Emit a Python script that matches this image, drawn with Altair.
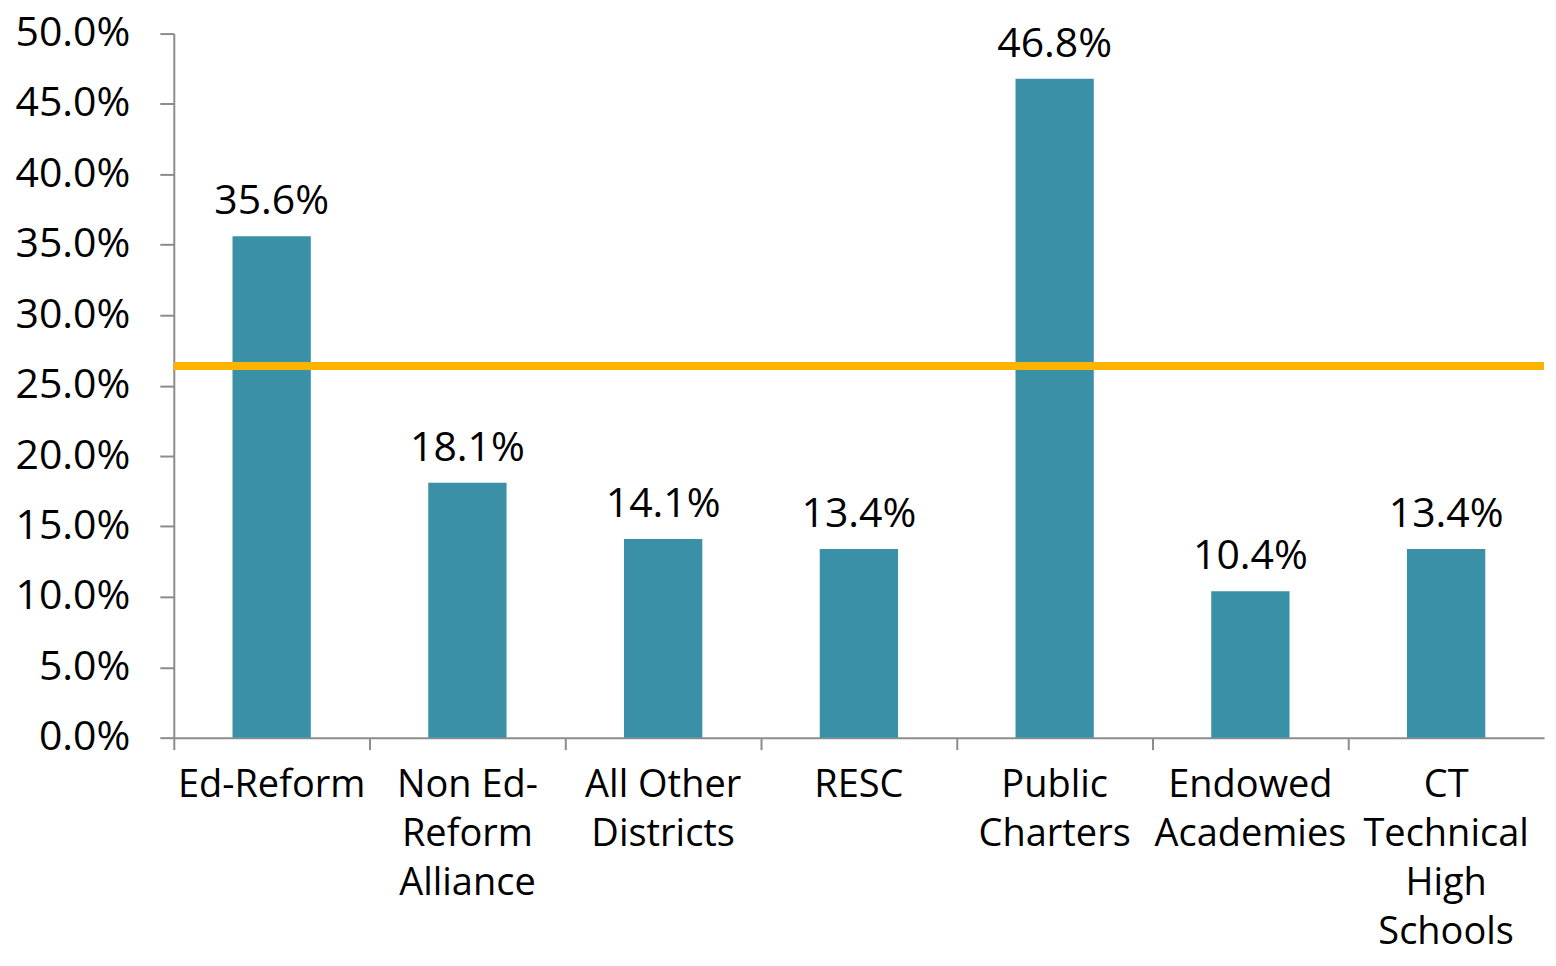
import altair as alt
import pandas as pd

categories = ["Ed-Reform", "Non Ed-|Reform|Alliance", "All Other|Districts", "RESC",
              "Public|Charters", "Endowed|Academies", "CT|Technical|High|Schools"]
values = [0.356, 0.181, 0.141, 0.134, 0.468, 0.104, 0.134]
state_avg = [0.264]

df = pd.DataFrame({"cat": categories, "val": values})
ref = pd.DataFrame({"avg": state_avg})

FONT = "Open Sans"
BAR = "#3A91A7"

x = alt.X("cat:N", sort=categories, title=None,
          scale=alt.Scale(paddingInner=0, paddingOuter=0),
          axis=alt.Axis(labelAngle=0, labelExpr="split(datum.label, '|')",
                        labelFont=FONT, labelFontSize=38, labelColor="#000000",
                        labelLineHeight=49, labelPadding=17, labelBaseline="top",
                        labelLimit=0, labelOverlap=False,
                        bandPosition=0, tickSize=12, tickColor="#8c8c8c",
                        domainColor="#8c8c8c", domainWidth=2, tickWidth=2,
                        grid=False))
y = alt.Y("val:Q", title=None,
          scale=alt.Scale(domain=[0, 0.5]),
          axis=alt.Axis(format=".1%", values=[i * 0.05 for i in range(11)],
                        labelFont=FONT, labelFontSize=41, labelColor="#000000",
                        labelPadding=30, tickSize=14, tickColor="#8c8c8c",
                        domainColor="#8c8c8c", domainWidth=2, tickWidth=2,
                        grid=False, minExtent=164, maxExtent=164))

bars = alt.Chart(df).mark_bar(color=BAR, width=alt.RelativeBandSize(0.4)).encode(x=x, y=y)
labels = alt.Chart(df).mark_text(font=FONT, fontSize=41, color="#000000",
                                 baseline="alphabetic", dy=-22).encode(
    x=alt.X("cat:N", sort=categories),
    y="val:Q",
    text=alt.Text("val:Q", format=".1%"))
rule = alt.Chart(ref).mark_rule(color="#FDB300", strokeWidth=8).encode(y="avg:Q")

chart = alt.layer(bars, rule, labels).properties(
    width=1372, height=705,
    padding={"left": 2, "top": 4, "right": 0, "bottom": 5},
    view=alt.ViewBackground(stroke="transparent", strokeWidth=0)
).configure_view(strokeWidth=0, stroke="transparent", strokeOpacity=0).configure(background="#ffffff")

chart.save("out.html", embed_options={"renderer": "svg", "actions": False})
